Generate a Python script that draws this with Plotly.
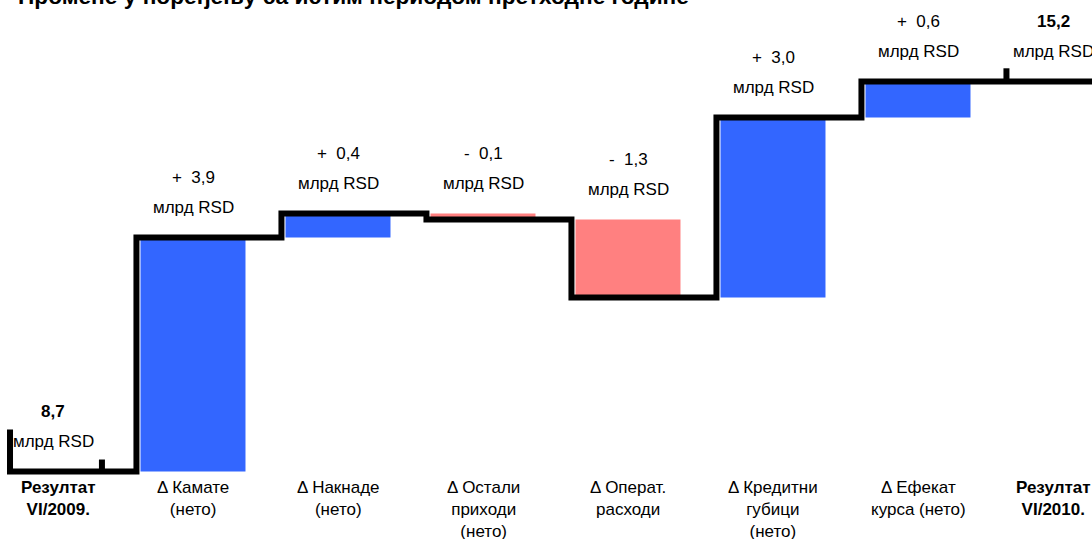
import numpy as np
import plotly.graph_objects as go

# ---------------- data ----------------
categories = [
    "<b>Резултат<br>VI/2009.</b>",
    "Δ Камате<br>(нето)",
    "Δ Накнаде<br>(нето)",
    "Δ Остали<br>приходи<br>(нето)",
    "Δ Операт.<br>расходи",
    "Δ Кредитни<br>губици<br>(нето)",
    "Δ Ефекат<br>курса (нето)",
    "<b>Резултат<br>VI/2010.</b>",
]
start_value = 8.7
changes = [3.9, 0.4, -0.1, -1.3, 3.0, 0.6]
end_value = 15.2
value_labels = ["<b>8,7</b>", "+\u00a0 3,9", "+\u00a0 0,4", "-\u00a0 0,1", "-\u00a0 1,3",
                "+\u00a0 3,0", "+\u00a0 0,6", "<b>15,2</b>"]
unit_label = "млрд RSD"
title_text = "Промене у поређењу са истим периодом претходне године"

# ---------------- styling ----------------
FONT = "Liberation Sans, Arial, sans-serif"
BLUE = "#3366FF"
PINK = "#FF8080"
LINE_W = 6
STEP_OFF = 0.39      # vertical step offset left of category centre
BAR_W = 0.724
X_RANGE = [-0.331, 7.2]
Y_RANGE = [8.592, 16.558]

levels = np.concatenate([[start_value], start_value + np.cumsum(changes)])

fig = go.Figure()

# bars
for i, ch in enumerate(changes):
    prev, cur = levels[i], levels[i + 1]
    fig.add_trace(go.Bar(
        x=[i + 1], y=[abs(ch)], base=[min(prev, cur)], width=BAR_W,
        marker=dict(color=BLUE if ch > 0 else PINK, line=dict(width=0)),
        hoverinfo="skip", showlegend=False))

# step line
xs = [-0.262, -0.262]
ys = [start_value + 0.7, start_value]
for i in range(1, len(levels)):
    xs += [i - STEP_OFF, i - STEP_OFF]
    ys += [levels[i - 1], levels[i]]
xs.append(X_RANGE[1] + 0.1)
ys.append(levels[-1])
fig.add_trace(go.Scatter(x=xs, y=ys, mode="lines",
                         line=dict(color="black", width=LINE_W),
                         hoverinfo="skip", showlegend=False))
# small ticks at start/end results
fig.add_trace(go.Scatter(x=[0.372, 0.372], y=[start_value, start_value + 0.2], mode="lines",
                         line=dict(color="black", width=LINE_W), hoverinfo="skip", showlegend=False))
fig.add_trace(go.Scatter(x=[7 - STEP_OFF, 7 - STEP_OFF], y=[end_value, end_value + 0.22], mode="lines",
                         line=dict(color="black", width=LINE_W), hoverinfo="skip", showlegend=False))

annotations = []
# value labels
tops = [start_value] + [max(levels[i], levels[i + 1]) for i in range(len(changes))] + [end_value]
for i, (lab, top) in enumerate(zip(value_labels, tops)):
    xs_shift = 5 if i == 0 else (-10 if i == len(categories) - 1 else 0)
    annotations.append(dict(x=i, y=top, xref="x", yref="y", text=lab, showarrow=False,
                            yshift=60, xshift=xs_shift, yanchor="middle",
                            font=dict(family=FONT, size=17, color="black")))
    annotations.append(dict(x=i, y=top, xref="x", yref="y", text=unit_label, showarrow=False,
                            yshift=30, xshift=xs_shift, yanchor="middle",
                            font=dict(family=FONT, size=17, color="black")))
# category labels
for i, cat in enumerate(categories):
    xs_shift = 10 if i == 0 else (-10 if i == len(categories) - 1 else 0)
    annotations.append(dict(x=i, y=0, xref="x", yref="paper", text=cat, showarrow=False,
                            yanchor="top", xshift=xs_shift, yshift=2,
                            font=dict(family=FONT, size=17, color="black")))
# title (cut off at top in the reference)
annotations.append(dict(x=0, y=1, xref="paper", yref="paper", text="<b>" + title_text + "</b>",
                        showarrow=False, xanchor="left", yanchor="middle", xshift=16, yshift=4,
                        font=dict(family=FONT, size=22.7, color="black")))

fig.update_layout(
    width=1092, height=539,
    margin=dict(l=0, r=0, t=0, b=61),
    paper_bgcolor="white", plot_bgcolor="white",
    barmode="overlay",
    xaxis=dict(range=X_RANGE, visible=False, fixedrange=True),
    yaxis=dict(range=Y_RANGE, visible=False, fixedrange=True),
    annotations=annotations,
    showlegend=False,
)
fig.write_html("out.html", config={"displayModeBar": False},
               post_script="document.body.style.margin='0';document.body.style.overflow='hidden';")
